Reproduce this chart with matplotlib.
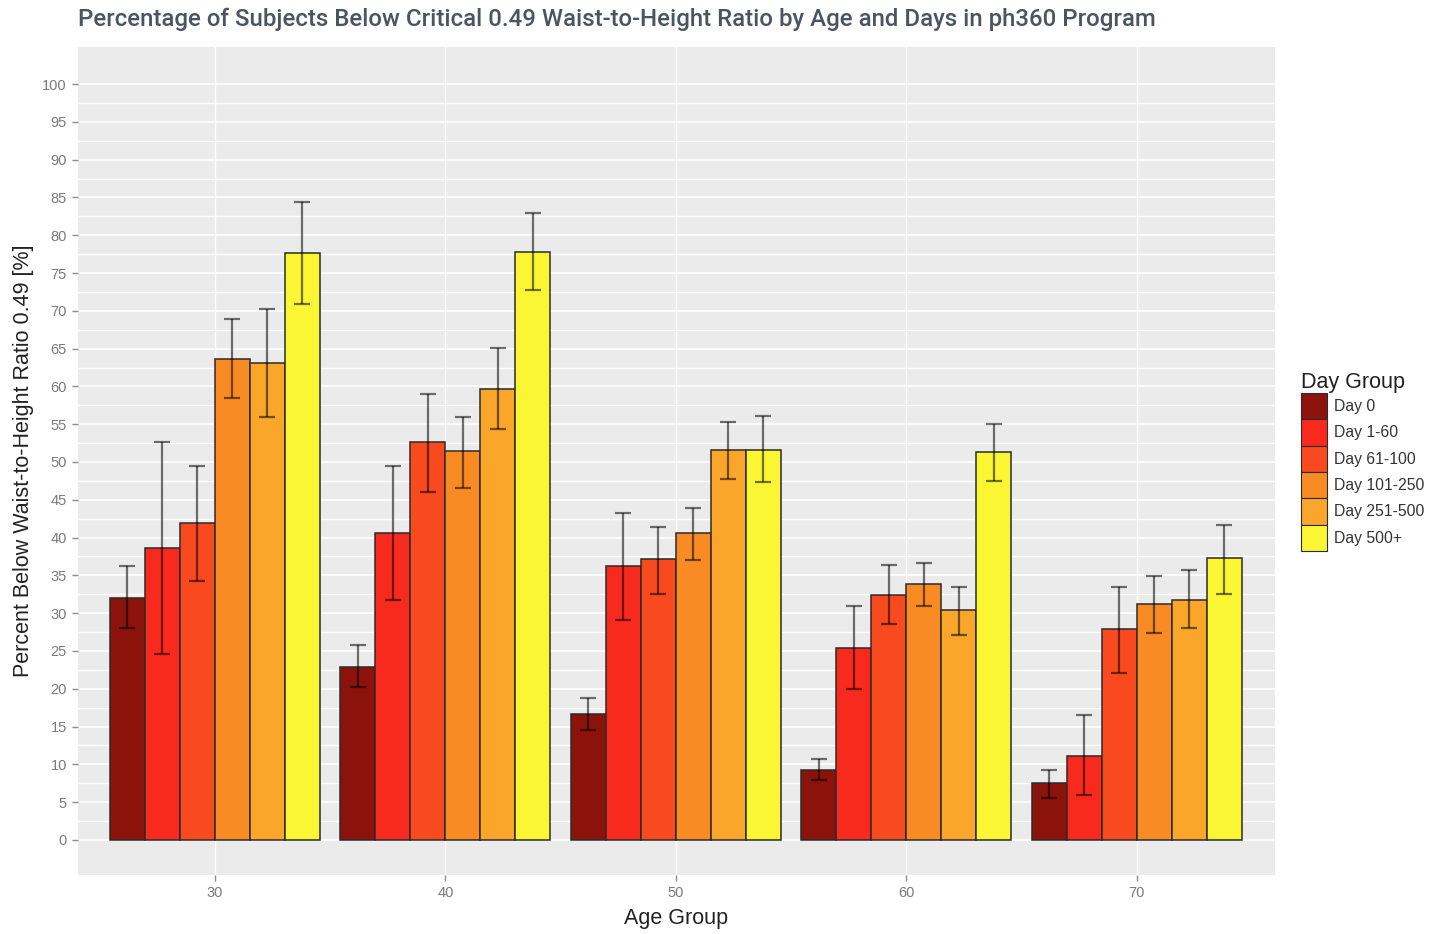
import numpy as np
import matplotlib as mpl
import matplotlib.pyplot as plt
from matplotlib.patches import Patch

# ---------------------------------------------------------------------------
# Data
# ---------------------------------------------------------------------------
age_groups = [30, 40, 50, 60, 70]
day_groups = ["Day 0", "Day 1-60", "Day 61-100", "Day 101-250", "Day 251-500", "Day 500+"]

day_0 = [32.0, 22.9, 16.7, 9.3, 7.6]
day_1_60 = [38.6, 40.6, 36.3, 25.4, 11.1]
day_61_100 = [41.9, 52.6, 37.2, 32.4, 27.9]
day_101_250 = [63.6, 51.5, 40.6, 33.9, 31.2]
day_251_500 = [63.1, 59.7, 51.6, 30.4, 31.8]
day_500_plus = [77.7, 77.8, 51.6, 51.3, 37.3]

err_lo = [
    [28.1, 20.2, 14.6, 7.9, 5.5],
    [24.6, 31.8, 29.1, 20.0, 6.0],
    [34.2, 46.0, 32.6, 28.6, 22.1],
    [58.4, 46.6, 37.1, 30.9, 27.4],
    [56.0, 54.3, 47.7, 27.1, 28.0],
    [70.9, 72.7, 47.3, 47.5, 32.6],
]
err_hi = [
    [36.3, 25.8, 18.8, 10.7, 9.3],
    [52.6, 49.5, 43.3, 31.0, 16.5],
    [49.5, 59.0, 41.4, 36.4, 33.4],
    [68.9, 55.9, 43.9, 36.6, 34.9],
    [70.2, 65.1, 55.3, 33.5, 35.7],
    [84.4, 82.9, 56.1, 55.0, 41.7],
]

colours = ["#8B130B", "#F82A1E", "#F8491F", "#F98B25", "#F9A62B", "#FBF633"]

series = [day_0, day_1_60, day_61_100, day_101_250, day_251_500, day_500_plus]

# ---------------------------------------------------------------------------
# Figure
# ---------------------------------------------------------------------------
mpl.rcParams.update({
    "font.family": ["Liberation Sans", "DejaVu Sans"],
})

fig = plt.figure(figsize=(14.47, 9.34), dpi=100)
ax = fig.add_axes([0.0539, 0.0632, 0.827, 0.8865])
ax.set_facecolor("#EBEBEB")

bar_w = 1.52
n = len(series)
x = np.array(age_groups, dtype=float)
for i, (vals, col) in enumerate(zip(series, colours)):
    xs = x + (i - (n - 1) / 2) * bar_w
    ax.bar(xs, vals, width=bar_w, color=col, edgecolor="#2b2b2b",
           linewidth=1.1, zorder=3)
    lo = np.array(vals) - np.array(err_lo[i])
    hi = np.array(err_hi[i]) - np.array(vals)
    ax.errorbar(xs, vals, yerr=[lo, hi], fmt="none", ecolor="black",
                alpha=0.55, elinewidth=1.6, capsize=5.5, capthick=1.6, zorder=4)

ax.set_xlim(24.06, 75.99)
ax.set_ylim(-4.63, 104.9)

ax.set_yticks(np.arange(0, 101, 5))
ax.set_yticks(np.arange(2.5, 101, 5), minor=True)
ax.set_xticks(age_groups)
ax.set_xticklabels([str(a) for a in age_groups])

ax.grid(which="major", axis="y", color="white", linewidth=1.2, zorder=0)
ax.grid(which="minor", axis="y", color="white", linewidth=1.0, zorder=0)
ax.grid(which="major", axis="x", color="white", linewidth=1.0, zorder=0)
ax.set_axisbelow(True)

for s in ax.spines.values():
    s.set_visible(False)
ax.tick_params(which="major", axis="both", length=4, width=1, color="#8c8c8c",
               labelsize=10.5, labelcolor="#7a7a7a", pad=4)
ax.tick_params(which="minor", length=0)

ax.set_xlabel("Age Group", fontsize=15.5, color="#222222", labelpad=6)
ax.set_ylabel("Percent Below Waist-to-Height Ratio 0.49 [%]", fontsize=15.5,
              color="#222222", labelpad=6)

fig.text(0.0539, 0.979, "Percentage of Subjects Below Critical 0.49 Waist-to-Height Ratio "
         "by Age and Days in ph360 Program", fontsize=17.3, fontweight="medium",
         family=["Roboto", "DejaVu Sans"], color="#4a5562", ha="left", va="center")

handles = [Patch(facecolor=c, edgecolor="#2b2b2b", linewidth=0.8) for c in colours]
leg = fig.legend(handles, day_groups, title="Day Group", loc="upper left",
                 bbox_to_anchor=(0.894, 0.61), frameon=False, fontsize=11.3,
                 title_fontsize=15.5, handlelength=1.65, handleheight=2.2,
                 handletextpad=0.4, labelspacing=0.0, borderpad=0)
leg._legend_box.align = "left"
for t in leg.get_texts():
    t.set_color("#333333")
leg.get_title().set_color("#222222")

fig.savefig("out.png", dpi=100)
